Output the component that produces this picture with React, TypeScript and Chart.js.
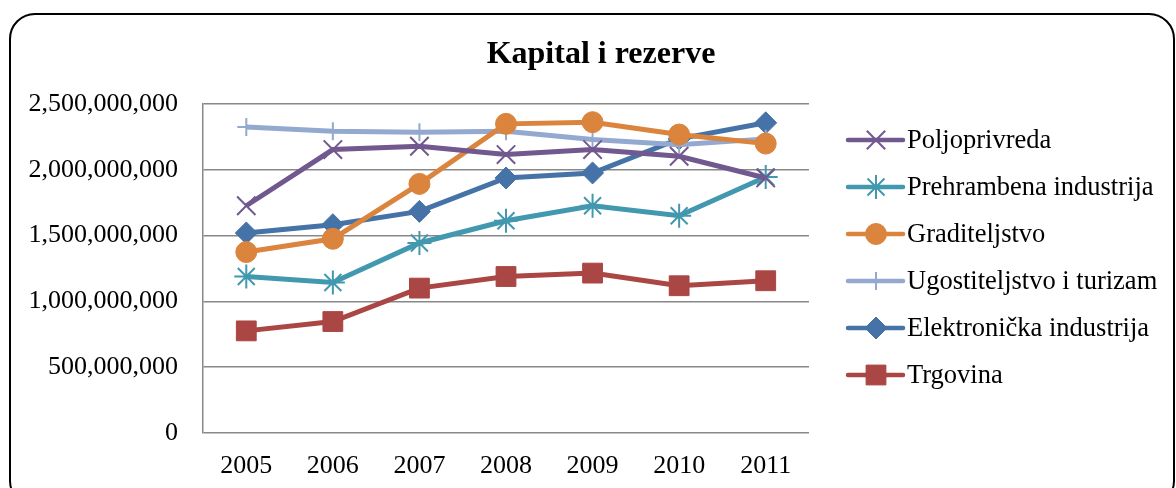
import React, { useEffect, useRef } from "react";
import { Chart, registerables } from "chart.js";
import { drawPoint } from "chart.js/helpers";

Chart.register(...registerables);

const chartTitle = "Kapital i rezerve";
const years = ["2005", "2006", "2007", "2008", "2009", "2010", "2011"];
const poljoprivreda = [1.727e9, 2.154e9, 2.179e9, 2.116e9, 2.154e9, 2.103e9, 1.938e9];
const prehrambena = [1.189e9, 1.144e9, 1.444e9, 1.613e9, 1.727e9, 1.651e9, 1.946e9];
const graditeljstvo = [1.375e9, 1.476e9, 1.893e9, 2.349e9, 2.362e9, 2.268e9, 2.199e9];
const ugostiteljstvo = [2.326e9, 2.293e9, 2.285e9, 2.293e9, 2.23e9, 2.19e9, 2.235e9];
const elektronicka = [1.52e9, 1.583e9, 1.684e9, 1.938e9, 1.976e9, 2.235e9, 2.357e9];
const trgovina = [0.776e9, 0.847e9, 1.101e9, 1.189e9, 1.215e9, 1.119e9, 1.157e9];
const yMin = 0;
const yMax = 2.5e9;
const yStep = 5e8;

const FONT = "'Liberation Serif', 'Times New Roman', serif";

type S = { label: string; data: number[]; color: string; style: string; radius: number; bw: number };

const series: S[] = [
  { label: "Poljoprivreda", data: poljoprivreda, color: "#71588F", style: "crossRot", radius: 13, bw: 2 },
  { label: "Prehrambena industrija", data: prehrambena, color: "#4198AF", style: "star", radius: 12, bw: 2 },
  { label: "Graditeljstvo", data: graditeljstvo, color: "#DB843D", style: "circle", radius: 10.5, bw: 1 },
  { label: "Ugostiteljstvo i turizam", data: ugostiteljstvo, color: "#93A9CF", style: "cross", radius: 9, bw: 2 },
  { label: "Elektronička industrija", data: elektronicka, color: "#4572A7", style: "rectRot", radius: 11, bw: 1 },
  { label: "Trgovina", data: trgovina, color: "#AA4643", style: "rect", radius: 14, bw: 1 },
];

const overlayPlugin = {
  id: "overlay",
  afterDraw(chart: any) {
    const ctx = chart.ctx as CanvasRenderingContext2D;
    ctx.save();
    // title
    ctx.fillStyle = "#000";
    ctx.font = `bold 32px ${FONT}`;
    ctx.textAlign = "center";
    ctx.textBaseline = "middle";
    ctx.fillText(chartTitle, 601, 55);
    // legend
    const x0 = 848;
    const x1 = 903;
    const xm = 876;
    const yStart = 140;
    const dy = 47;
    chart.data.datasets.forEach((ds: any, i: number) => {
      const y = yStart + i * dy;
      ctx.strokeStyle = ds.borderColor;
      ctx.lineWidth = 4.5;
      ctx.lineCap = "round";
      ctx.beginPath();
      ctx.moveTo(x0, y);
      ctx.lineTo(x1, y);
      ctx.stroke();
      ctx.lineCap = "butt";
      ctx.fillStyle = ds.pointBackgroundColor;
      ctx.strokeStyle = ds.pointBorderColor;
      ctx.lineWidth = ds.pointBorderWidth;
      drawPoint(ctx, { pointStyle: ds.pointStyle, rotation: 0, radius: ds.pointRadius, borderWidth: ds.pointBorderWidth } as any, xm, y);
      ctx.fillStyle = "#000";
      ctx.font = `26.5px ${FONT}`;
      ctx.textAlign = "left";
      ctx.textBaseline = "middle";
      ctx.fillText(ds.label, 907, y + 1);
    });
    ctx.restore();
  },
};

export default function App() {
  const ref = useRef<HTMLCanvasElement | null>(null);
  useEffect(() => {
    if (!ref.current) return;
    const chart = new Chart(ref.current, {
      type: "line",
      data: {
        labels: years,
        datasets: series.map((s) => ({
          label: s.label,
          data: s.data,
          borderColor: s.color,
          backgroundColor: s.color,
          borderWidth: 5,
          pointStyle: s.style as any,
          pointRadius: s.radius,
          pointHoverRadius: s.radius,
          pointBackgroundColor: s.color,
          pointBorderColor: s.color,
          pointBorderWidth: s.bw,
          tension: 0,
          fill: false,
        })),
      },
      options: {
        animation: false,
        responsive: false,
        maintainAspectRatio: false,
        events: [],
        layout: { padding: { left: 0, top: 104, right: 367, bottom: 0 } },
        plugins: {
          legend: { display: false },
          title: { display: false },
          tooltip: { enabled: false },
        },
        scales: {
          x: {
            offset: true,
            grid: { display: false, drawTicks: false },
            border: { display: false },
            ticks: {
              color: "#000",
              font: { family: FONT, size: 26 },
              padding: 18,
              maxRotation: 0,
            },
            afterFit: (scale: any) => {
              scale.height = 55;
            },
          },
          y: {
            min: yMin,
            max: yMax,
            grid: { color: "#888888", lineWidth: 1.5, drawTicks: false },
            border: { display: true, color: "#888888", width: 1.5 },
            ticks: {
              stepSize: yStep,
              color: "#000",
              font: { family: FONT, size: 26 },
              padding: 25,
              callback: (v: any) => Number(v).toLocaleString("en-US"),
            },
            afterFit: (scale: any) => {
              scale.width = 203;
            },
          },
        },
      },
      plugins: [overlayPlugin],
    });
    return () => chart.destroy();
  }, []);

  return (
    <div style={{ position: "fixed", left: 0, top: 0, width: 1176, height: 488, overflow: "hidden", background: "#fff" }}>
      <canvas ref={ref} width={1176} height={488} style={{ position: "absolute", left: 0, top: 0, width: 1176, height: 488 }} />
      <div
        style={{
          position: "absolute",
          left: 9,
          top: 13,
          width: 1162,
          height: 490,
          border: "2px solid #000",
          borderRadius: 26,
          pointerEvents: "none",
        }}
      />
    </div>
  );
}
